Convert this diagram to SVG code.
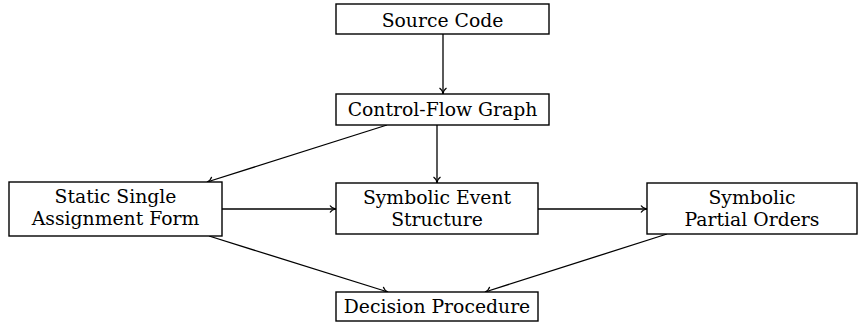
<svg xmlns="http://www.w3.org/2000/svg" width="868" height="324" viewBox="0 0 868 324">
<style>
.box{fill:#fff;stroke:#000;stroke-width:1.4}
.t{font-family:"DejaVu Serif","Liberation Serif",serif;font-size:18.8px;fill:#000;text-anchor:middle}
.e{fill:none;stroke:#000;stroke-width:1.3}
</style>
<defs>
<marker id="ah" viewBox="0 0 10 10" refX="9" refY="5" markerWidth="10" markerHeight="10" markerUnits="userSpaceOnUse" orient="auto">
<path d="M3,1.5 Q5,4.5 9,5 Q5,5.5 3,8.5" fill="none" stroke="#000" stroke-width="1.2"/>
</marker>
</defs>
<g id="connectors">
<line class="e" x1="443" y1="34" x2="443" y2="94" marker-end="url(#ah)"/>
<line class="e" x1="387" y1="125" x2="207" y2="182" marker-end="url(#ah)"/>
<line class="e" x1="437" y1="125" x2="437" y2="183" marker-end="url(#ah)"/>
<line class="e" x1="222" y1="209" x2="336" y2="209" marker-end="url(#ah)"/>
<line class="e" x1="538" y1="209" x2="647" y2="209" marker-end="url(#ah)"/>
<line class="e" x1="209" y1="236" x2="388" y2="292" marker-end="url(#ah)"/>
<line class="e" x1="667" y1="234" x2="485" y2="292" marker-end="url(#ah)"/>
</g>
<g id="source">
<rect class="box" x="336" y="4" width="213" height="30"/>
<text class="t" x="442.5" y="27">Source Code</text>
</g>
<g id="cfg">
<rect class="box" x="336" y="94" width="213" height="31"/>
<text class="t" x="442.5" y="116">Control-Flow Graph</text>
</g>
<g id="ssa">
<rect class="box" x="9" y="182" width="213" height="54"/>
<text class="t" x="115.5" y="203">Static Single</text>
<text class="t" x="115.5" y="225">Assignment Form</text>
</g>
<g id="ses">
<rect class="box" x="336" y="183" width="202" height="51"/>
<text class="t" x="437" y="204">Symbolic Event</text>
<text class="t" x="437" y="226">Structure</text>
</g>
<g id="spo">
<rect class="box" x="647" y="183" width="210" height="51"/>
<text class="t" x="752" y="204">Symbolic</text>
<text class="t" x="752" y="226">Partial Orders</text>
</g>
<g id="dp">
<rect class="box" x="336" y="292" width="202" height="29"/>
<text class="t" x="437" y="313">Decision Procedure</text>
</g>
</svg>
